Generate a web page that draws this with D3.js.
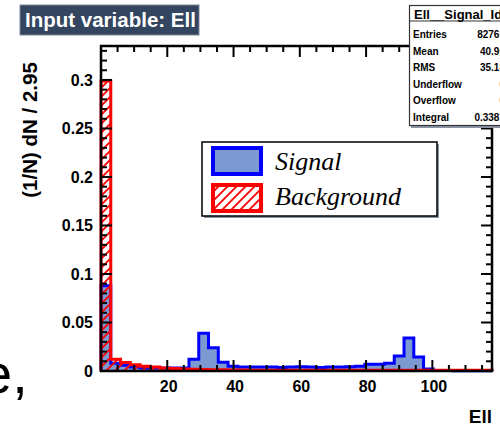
<!DOCTYPE html>
<html>
<head>
<meta charset="utf-8">
<script src="https://cdn.jsdelivr.net/npm/d3@7/dist/d3.min.js"></script>
<style>
  html, body { margin: 0; padding: 0; background: #fff; }
  svg { display: block; }
</style>
</head>
<body>
<div id="chart"></div>
<script>
// ---------- data ----------
const binWidth = 2.95;
const nBins = 40;
const signalValues = [0.088, 0.008, 0.006, 0.004, 0.003, 0.003, 0.003, 0.003, 0.003, 0.012,
                      0.039, 0.024, 0.009, 0.005, 0.004, 0.004, 0.004, 0.004, 0.0035, 0.004,
                      0.0045, 0.004, 0.0035, 0.004, 0.004, 0.0045, 0.005, 0.007, 0.007, 0.008,
                      0.0155, 0.034, 0.0145, 0.002, 0.0005, 0.0004, 0.0003, 0.0003, 0.0002, 0.0002];
const backgroundValues = [0.299, 0.012, 0.0088, 0.0064, 0.005, 0.004, 0.003, 0.0025, 0.002, 0.0018,
                          0.0015, 0.0013, 0.0012, 0.001, 0.001, 0.0008, 0.0008, 0.0008, 0.0008, 0.0008,
                          0.0008, 0.0008, 0.0008, 0.0008, 0.0008, 0.0008, 0.0008, 0.0008, 0.0008, 0.0008,
                          0.0008, 0.0008, 0.0008, 0.0008, 0.0008, 0.0008, 0.0008, 0.0008, 0.0008, 0.0008];
const xTickLabels = [20, 40, 60, 80, 100];
const yTickLabels = [0, 0.05, 0.1, 0.15, 0.2, 0.25, 0.3];
const legendLabels = ["Signal", "Background"];
const statsNames = ["Entries", "Mean", "RMS", "Underflow", "Overflow", "Integral"];
const statsValues = ["82765", "40.90", "35.18", "0", "0", "0.3387"];

// ---------- layout ----------
const W = 500, H = 426;
const frame = {left: 101, right: 492, top: 46, bottom: 371};
const svg = d3.select("#chart").append("svg").attr("width", W).attr("height", H);

const x = d3.scaleLinear().domain([0, binWidth * nBins]).range([frame.left, frame.right]);
const y = d3.scaleLinear().domain([0, 0.335]).range([frame.bottom, frame.top]);

const sansB = "'Liberation Sans', Arial, Helvetica, sans-serif";

// hatch pattern
const defs = svg.append("defs");
const pat = defs.append("pattern").attr("id", "hatch").attr("patternUnits", "userSpaceOnUse")
  .attr("width", 9).attr("height", 9);
pat.append("path").attr("d", "M-1,10 L10,-1 M-3,3 L3,-3 M6,12 L12,6")
  .attr("stroke", "#ff0000").attr("stroke-width", 1.8).attr("fill", "none");

function stepPath(vals) {
  let p = "M" + x(0) + "," + y(0);
  vals.forEach((v, i) => {
    p += "L" + x(i * binWidth) + "," + y(v) + "L" + x((i + 1) * binWidth) + "," + y(v);
  });
  p += "L" + x(vals.length * binWidth) + "," + y(0);
  return p;
}

// signal
svg.append("path").attr("d", stepPath(signalValues) + "Z").attr("fill", "#7d99d1").attr("stroke", "none");
svg.append("path").attr("d", stepPath(signalValues)).attr("fill", "none")
  .attr("stroke", "#0000ff").attr("stroke-width", 3).attr("stroke-linejoin", "miter");
// background
svg.append("path").attr("d", stepPath(backgroundValues) + "Z").attr("fill", "url(#hatch)").attr("stroke", "none");
svg.append("path").attr("d", stepPath(backgroundValues)).attr("fill", "none")
  .attr("stroke", "#ff0000").attr("stroke-width", 3).attr("stroke-linejoin", "miter");

// frame
svg.append("rect").attr("x", frame.left).attr("y", frame.top)
  .attr("width", frame.right - frame.left).attr("height", frame.bottom - frame.top)
  .attr("fill", "none").attr("stroke", "#000").attr("stroke-width", 2.5);

// ticks
const tk = svg.append("g").attr("stroke", "#000").attr("stroke-width", 2);
const xMinor = d3.range(0, binWidth * nBins + 0.001, 5);
xMinor.forEach(v => {
  const major = v % 20 === 0;
  const len = major ? 11 : 6;
  const px = x(v);
  tk.append("line").attr("x1", px).attr("x2", px).attr("y1", frame.bottom).attr("y2", frame.bottom - len);
  tk.append("line").attr("x1", px).attr("x2", px).attr("y1", frame.top).attr("y2", frame.top + len);
});
const yMinor = d3.range(0, 0.335, 0.01);
yMinor.forEach((v, i) => {
  const major = i % 5 === 0;
  const len = major ? 11 : 6;
  const py = y(v);
  tk.append("line").attr("x1", frame.left).attr("x2", frame.left + len).attr("y1", py).attr("y2", py);
  tk.append("line").attr("x1", frame.right).attr("x2", frame.right - len).attr("y1", py).attr("y2", py);
});

// tick labels
svg.append("g").selectAll("text").data(xTickLabels).join("text")
  .attr("x", d => x(d) + 1.5).attr("y", 392).attr("text-anchor", "middle")
  .attr("font-family", sansB).attr("font-weight", "bold").attr("font-size", 16)
  .text(d => d);
svg.append("g").selectAll("text").data(yTickLabels).join("text")
  .attr("x", 93).attr("y", d => y(d)).attr("dy", "0.36em").attr("text-anchor", "end")
  .attr("font-family", sansB).attr("font-weight", "bold").attr("font-size", 16)
  .text(d => d);

// axis titles
svg.append("text").attr("x", 492).attr("y", 423).attr("text-anchor", "end")
  .attr("font-family", sansB).attr("font-weight", "bold").attr("font-size", 19).text("Ell");
svg.append("text").attr("transform", "translate(37,130) rotate(-90)").attr("text-anchor", "middle")
  .attr("font-family", sansB).attr("font-weight", "bold").attr("font-size", 20.5).text("(1/N) dN / 2.95");

// legend
const lg = svg.append("g");
lg.append("rect").attr("x", 204).attr("y", 144).attr("width", 235).attr("height", 74).attr("fill", "#8a94a6");
lg.append("rect").attr("x", 202).attr("y", 142).attr("width", 235).attr("height", 74)
  .attr("fill", "#fff").attr("stroke", "#000").attr("stroke-width", 1.5);
lg.append("rect").attr("x", 213).attr("y", 148).attr("width", 48).attr("height", 26)
  .attr("fill", "#7d99d1").attr("stroke", "#0000ff").attr("stroke-width", 4);
lg.append("rect").attr("x", 213).attr("y", 185).attr("width", 48).attr("height", 26)
  .attr("fill", "url(#hatch)").attr("stroke", "#ff0000").attr("stroke-width", 4);
lg.selectAll("text.lab").data(legendLabels).join("text").attr("class", "lab")
  .attr("x", 275).attr("y", (d, i) => i === 0 ? 170 : 205)
  .attr("font-family", "'Liberation Serif', 'Times New Roman', serif").attr("font-style", "italic")
  .attr("font-size", 26).text(d => d);

// title box
svg.append("rect").attr("x", 20).attr("y", 5).attr("width", 179).attr("height", 30)
  .attr("fill", "#33455f").attr("stroke", "#7c8799").attr("stroke-width", 1);
svg.append("text").attr("x", 25).attr("y", 27).attr("fill", "#fff")
  .attr("font-family", sansB).attr("font-weight", "bold").attr("font-size", 20.5)
  .text("Input variable: Ell");

// stats box
const sb = svg.append("g");
sb.append("rect").attr("x", 411).attr("y", 8).attr("width", 100).attr("height", 120).attr("fill", "#8a94a6");
sb.append("rect").attr("x", 409.5).attr("y", 5.5).attr("width", 100).attr("height", 120)
  .attr("fill", "#fff").attr("stroke", "#333").attr("stroke-width", 1.2);
sb.append("line").attr("x1", 409.5).attr("x2", 500).attr("y1", 21).attr("y2", 21)
  .attr("stroke", "#333").attr("stroke-width", 1.2);
sb.append("text").attr("x", 414).attr("y", 18.5).attr("font-family", sansB).attr("font-weight", "bold")
  .attr("font-size", 13).text("Ell__Signal_Id");
sb.selectAll("text.n").data(statsNames).join("text").attr("class", "n")
  .attr("x", 413).attr("y", (d, i) => 38 + i * 16.6)
  .attr("font-family", sansB).attr("font-weight", "bold").attr("font-size", 10).text(d => d);
sb.selectAll("text.v").data(statsValues).join("text").attr("class", "v")
  .attr("x", 505).attr("y", (d, i) => 38 + i * 16.6).attr("text-anchor", "end")
  .attr("font-family", sansB).attr("font-weight", "bold").attr("font-size", 10).text(d => d);

// stray large glyph at left edge (from the slide behind the plot)
svg.append("text").attr("x", -19).attr("y", 393).attr("font-family", "'Liberation Sans', Arial, sans-serif")
  .attr("font-size", 56).text("e,");
</script>
</body>
</html>
